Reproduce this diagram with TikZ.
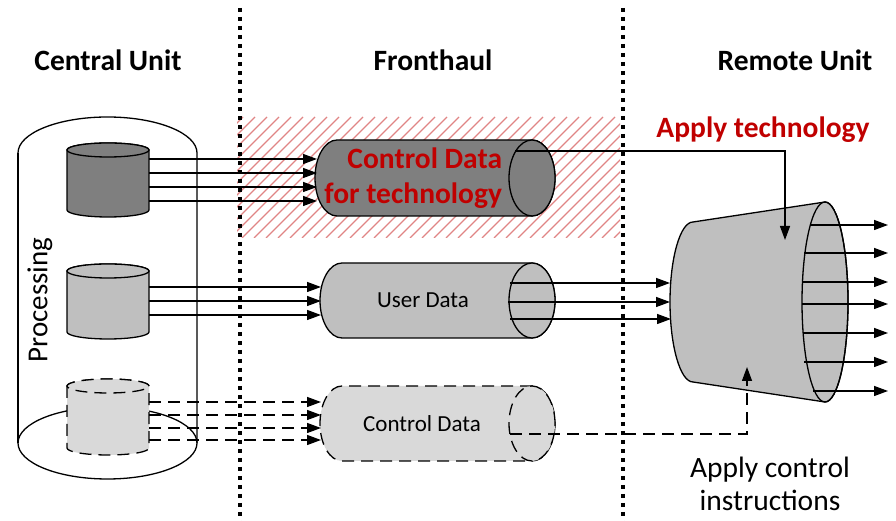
\documentclass[tikz,border=0pt]{standalone}
\usepackage{fontspec}
\setmainfont{Carlito}
\usetikzlibrary{arrows.meta}
\definecolor{darkfill}{HTML}{7F7F7F}
\definecolor{midfill}{HTML}{BFBFBF}
\definecolor{lightfill}{HTML}{D9D9D9}
\definecolor{techred}{HTML}{C00000}
\definecolor{hatchred}{HTML}{E08585}

% vertical cylinder: centre x, top y, bottom y, style
\newcommand\vcylinder[4]{%
  \path[#4] ({#1-41},#2) -- ({#1-41},#3) arc (180:360:41 and 7) -- ({#1+41},#2) arc (0:180:41 and 7) -- cycle;
  \path[#4] (#1,#2) ellipse (41 and 7);}
% horizontal cylinder: left cap centre x, right end x, centre y, half height, style
\newcommand\hcylinder[5]{%
  \path[#5] (#2,{#3+#4}) -- (#1,{#3+#4}) arc (90:270:22 and #4) -- (#2,{#3-#4}) arc (-90:90:23 and #4) -- cycle;
  \path[#5] (#2,#3) ellipse (23 and #4);}

\begin{document}
\begin{tikzpicture}[x=1pt,y=1pt,line width=1.3pt,
  >={Triangle[length=14pt,width=10pt]},
  outline/.style={draw=black,line width=1.3pt},
  dashedoutline/.style={outline,dash pattern=on 12pt off 7pt},
  flow/.style={->,line width=1.3pt},
  dflow/.style={flow,dash pattern=on 12pt off 7pt},
  divider/.style={line width=3.8pt,dash pattern=on 4pt off 5pt},
  heading/.style={font=\fontsize{29.5}{35}\selectfont\bfseries},
  redheading/.style={heading,text=techred},
  label/.style={font=\fontsize{23}{27}\selectfont},
  biglabel/.style={font=\fontsize{29.5}{33}\selectfont,align=center},
  hatch/.style={hatchred,line width=1.3pt}]
\useasboundingbox (0,0) rectangle (896,521);

% hatched area behind the technology control channel
\begin{scope}
  \clip (237,283) rectangle (620,404);
  \foreach \x in {110,122,...,620}
    \draw[hatch] (\x,283) -- ++(121,121);
\end{scope}

% dividers between the three units
\draw[divider] (240,513) -- (240,0);
\draw[divider] (623,513) -- (623,0);

% titles
\node[heading] (cu) at (108,461) {Central Unit};
\node[heading] (fh) at (433,461) {Fronthaul};
\node[heading] (ru) at (795,461) {Remote Unit};

% processing cylinder of the central unit
\draw[outline] (18,368) arc (180:0:89.5 and 36) -- (197,78);
\draw[outline] (18,368) -- (18,78);
\draw[outline] (107.5,78) ellipse (89.5 and 36);
\node[font=\fontsize{29}{33}\selectfont,rotate=90] (proc) at (40,221) {Processing};

% data sources
\vcylinder{108}{371}{311}{fill=darkfill,outline}
\vcylinder{108}{250}{189}{fill=midfill,outline}
\vcylinder{108}{135}{73}{fill=lightfill,dashedoutline}

% fronthaul channels
\hcylinder{337}{532}{343}{38}{fill=darkfill,outline}
\hcylinder{342}{532}{220.5}{37.5}{fill=midfill,outline}
\hcylinder{342}{532}{97.5}{37.5}{fill=lightfill,dashedoutline}
\node[redheading,align=right,anchor=east] (tech) at (506,343) {Control Data\\for technology};
\node[label] (ud) at (423,221) {User Data};
\node[label] (cd) at (422,97) {Control Data};

% remote unit
\path[fill=midfill,outline] (693,299) -- (825,319) arc (90:-90:23 and 100) -- (693,139) arc (270:90:23 and 80) -- cycle;
\draw[outline] (825,219) ellipse (23 and 100);
\node[redheading] (apt) at (763,391) {Apply technology};
\node[biglabel] (apc) at (770,37) {Apply control\\instructions};

% connector end points
\foreach \n/\y in {1/362,2/348,3/334,4/320} {
  \coordinate (ta\n) at (149,\y);
  \coordinate (tb\n) at (317,\y);
}
\foreach \n/\y in {1/234,2/220,3/206} {
  \coordinate (ua\n) at (149,\y);
  \coordinate (ub\n) at (321,\y);
}
\foreach \n/\y in {1/119,2/106,3/93,4/81} {
  \coordinate (ca\n) at (149,\y);
  \coordinate (cb\n) at (321,\y);
}
\coordinate (uo1) at (510,238);
\coordinate (uo2) at (508,219);
\coordinate (uo3) at (510,202);
\coordinate (ui1) at (670,238);
\coordinate (ui2) at (670,219);
\coordinate (ui3) at (671,202);
\coordinate (tout) at (515,370);
\coordinate (tcorner) at (785,370);
\coordinate (tin) at (785,281);
\coordinate (cout) at (510,87);
\coordinate (ccorner) at (747,87);
\coordinate (cin) at (747,154);
\foreach \n/\y/\s in {1/296/810,2/268/804,3/239/803,4/217/802,5/188/803,6/159/804,7/130/813} {
  \coordinate (ro\n) at (\s,\y);
  \coordinate (re\n) at (888,\y);
}

% connectors
\foreach \n in {1,...,4} \draw[flow] (ta\n) -- (tb\n);
\foreach \n in {1,...,3} \draw[flow] (ua\n) -- (ub\n);
\foreach \n in {1,...,4} \draw[dflow] (ca\n) -- (cb\n);
\foreach \n in {1,...,3} \draw[flow] (uo\n) -- (ui\n);
\draw[flow] (tout) -- (tcorner) -- (tin);
\draw[dflow] (cout) -- (ccorner) -- (cin);
\foreach \n in {1,...,7} \draw[flow] (ro\n) -- (re\n);
\end{tikzpicture}
\end{document}
